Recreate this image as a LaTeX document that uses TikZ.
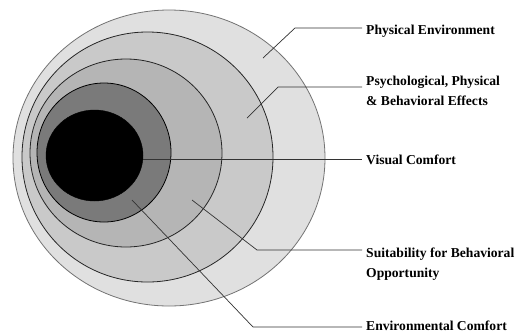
\documentclass[tikz,border=0pt]{standalone}
\usepackage{fontspec}
\setmainfont{Liberation Serif}
\usetikzlibrary{shapes.geometric}
\begin{document}
\begin{tikzpicture}[x=1pt,y=-1pt,
  ring/.style={draw, ellipse, inner sep=0pt},
  lead/.style={draw=black!80, line width=0.7pt},
  lbl/.style={anchor=north west, inner sep=0pt, align=left,
    font=\fontsize{13.6}{20}\selectfont\bfseries}]
\useasboundingbox (0,0) rectangle (519,333);
% rings
\node[ring, draw=black!55, line width=0.8pt, fill=black!12, minimum width=312, minimum height=296] (r1) at (169,158) {};
\node[ring, draw=black!85, line width=0.8pt, fill=black!21, minimum width=251, minimum height=250] (r2) at (147.5,157) {};
\node[ring, draw=black!85, line width=0.8pt, fill=black!29, minimum width=192, minimum height=188] (r3) at (126,153) {};
\node[ring, draw=black, line width=0.8pt, fill=black!52, minimum width=134, minimum height=139] (r4) at (104,152.5) {};
\node[ring, draw=black, fill=black, minimum width=97, minimum height=91] (r5) at (94.5,155.5) {};
% leader points
\coordinate (pA) at (263,58);  \coordinate (bA) at (295,28);  \coordinate (eA) at (362,28);
\coordinate (pB) at (247,118); \coordinate (bB) at (278,87);  \coordinate (eB) at (362,87);
\coordinate (pC) at (r5.east); \coordinate (eC) at (362,159);
\coordinate (pD) at (192,200); \coordinate (bD) at (257,250); \coordinate (eD) at (362,250);
\coordinate (pE) at (132,200); \coordinate (bE) at (253,327); \coordinate (eE) at (362,327);
\draw[lead] (pA) -- (bA) -- (eA);
\draw[lead] (pB) -- (bB) -- (eB);
\draw[lead] (pC |- eC) -- (eC);
\draw[lead] (pD) -- (bD) -- (eD);
\draw[lead] (pE) -- (bE) -- (eE);
% labels
\node[lbl] (tA) at (366,25) {Physical Environment};
\node[lbl] (tB) at (366,76) {Psychological, Physical\\\& Behavioral Effects};
\node[lbl] (tC) at (366,155) {Visual Comfort};
\node[lbl] (tD) at (366,248) {Suitability for Behavioral\\Opportunity};
\node[lbl] (tE) at (366,321) {Environmental Comfort};
\end{tikzpicture}
\end{document}
